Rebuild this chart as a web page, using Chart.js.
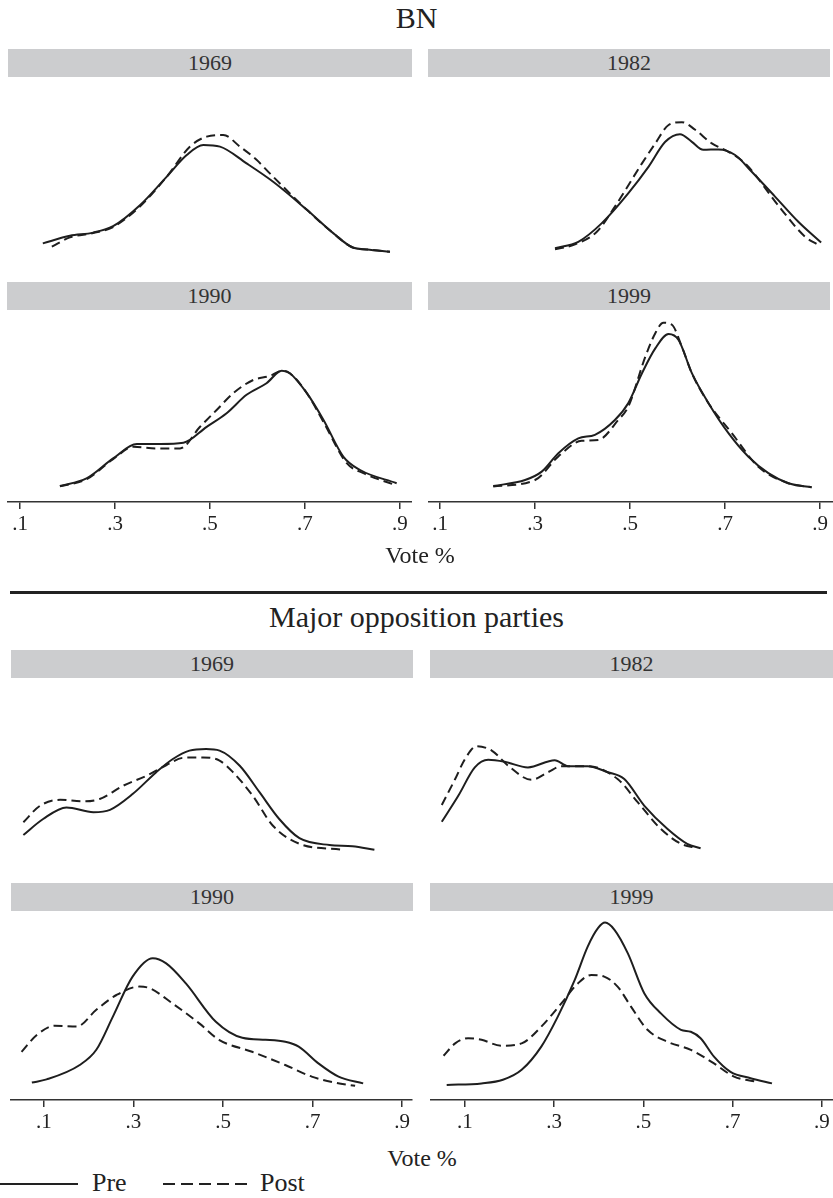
<!DOCTYPE html>
<html>
<head>
<meta charset="utf-8">
<script src="https://cdn.jsdelivr.net/npm/chart.js@4"></script>
<style>
  body { margin: 0; background: #fff; font-family: "Liberation Serif", serif; color: #222; }
  #page { position: relative; width: 833px; height: 1198px; overflow: hidden; }
  .title { position: absolute; left: 0; width: 833px; text-align: center; font-size: 30px; line-height: 34px; }
  .strip { position: absolute; height: 28px; background: #cccdcf; text-align: center; font-size: 22px; line-height: 28px; color: #333; }
  .panel { position: absolute; }
  .xtitle { position: absolute; width: 200px; text-align: center; font-size: 24px; line-height: 28px; }
  .rule { position: absolute; left: 10px; width: 817px; top: 591px; height: 3px; background: #222; }
  .key { position: absolute; top: 1183px; height: 2px; }
  .keytext { position: absolute; top: 1168px; font-size: 26px; line-height: 30px; }
</style>
</head>
<body>
<div id="page">
  <div class="title" style="top:1px">BN</div>
  <div class="strip" style="left:8px;width:404px;top:49px">1969</div>
  <div class="strip" style="left:428px;width:402px;top:49px">1982</div>
  <div class="strip" style="left:7px;width:405px;top:282px">1990</div>
  <div class="strip" style="left:428px;width:402px;top:282px">1999</div>
  <canvas class="panel" id="bn1969" width="405" height="192" style="left:7px;top:77px"></canvas>
  <canvas class="panel" id="bn1982" width="405" height="192" style="left:428px;top:77px"></canvas>
  <canvas class="panel" id="bn1990" width="405" height="232" style="left:7px;top:310px"></canvas>
  <canvas class="panel" id="bn1999" width="405" height="232" style="left:428px;top:310px"></canvas>
  <div class="xtitle" style="left:320px;top:541px">Vote %</div>

  <div class="rule"></div>

  <div class="title" style="top:600px">Major opposition parties</div>
  <div class="strip" style="left:11px;width:402px;top:650px">1969</div>
  <div class="strip" style="left:430px;width:403px;top:650px">1982</div>
  <div class="strip" style="left:11px;width:402px;top:883px">1990</div>
  <div class="strip" style="left:430px;width:403px;top:883px">1999</div>
  <canvas class="panel" id="op1969" width="403" height="189" style="left:10px;top:677px"></canvas>
  <canvas class="panel" id="op1982" width="403" height="189" style="left:430px;top:677px"></canvas>
  <canvas class="panel" id="op1990" width="403" height="229" style="left:10px;top:911px"></canvas>
  <canvas class="panel" id="op1999" width="403" height="229" style="left:430px;top:911px"></canvas>
  <div class="xtitle" style="left:322px;top:1144px">Vote %</div>

  <div class="key" style="left:0;width:78px;background:#222"></div>
  <div class="keytext" style="left:92px">Pre</div>
  <div class="key" style="left:163px;width:84px;background:repeating-linear-gradient(to right,#222 0 12px,transparent 12px 18px)"></div>
  <div class="keytext" style="left:260px">Post</div>
</div>
<script>
// kernel density curves: [vote share, density]
const tickValues = [0.1, 0.3, 0.5, 0.7, 0.9];
const tickLabels = ['.1', '.3', '.5', '.7', '.9'];

const bn1969Pre = [[0.148,0.29],[0.205,0.48],[0.254,0.56],[0.296,0.72],[0.353,1.25],[0.409,1.96],[0.451,2.5],[0.486,2.75],[0.521,2.71],[0.577,2.29],[0.633,1.83],[0.704,1.13],[0.760,0.54],[0.802,0.18],[0.830,0.14],[0.879,0.08]];
const bn1969Post = [[0.167,0.21],[0.205,0.44],[0.254,0.55],[0.296,0.70],[0.353,1.22],[0.409,1.96],[0.458,2.71],[0.493,2.96],[0.528,3.0],[0.563,2.71],[0.598,2.38],[0.626,2.04],[0.704,1.13],[0.760,0.54],[0.802,0.18],[0.830,0.14],[0.879,0.08]];
const bn1982Pre = [[0.342,0.17],[0.391,0.33],[0.440,0.79],[0.496,1.54],[0.539,2.21],[0.574,2.83],[0.605,3.02],[0.630,2.83],[0.654,2.63],[0.686,2.64],[0.721,2.5],[0.756,2.08],[0.805,1.46],[0.854,0.83],[0.902,0.31]];
const bn1982Post = [[0.342,0.14],[0.380,0.25],[0.430,0.58],[0.468,1.21],[0.525,2.29],[0.553,2.79],[0.581,3.25],[0.609,3.32],[0.637,3.13],[0.672,2.79],[0.707,2.58],[0.742,2.29],[0.819,1.13],[0.868,0.46],[0.896,0.25]];
const bn1990Pre = [[0.184,0.05],[0.240,0.24],[0.296,0.74],[0.346,1.1],[0.395,1.1],[0.444,1.13],[0.493,1.53],[0.535,1.87],[0.577,2.33],[0.619,2.62],[0.651,2.93],[0.668,2.87],[0.704,2.37],[0.739,1.7],[0.781,0.78],[0.816,0.45],[0.893,0.12]];
const bn1990Post = [[0.184,0.04],[0.240,0.22],[0.296,0.72],[0.339,1.03],[0.388,0.99],[0.437,0.99],[0.479,1.53],[0.514,1.95],[0.549,2.37],[0.591,2.7],[0.626,2.8],[0.651,2.93],[0.668,2.87],[0.704,2.37],[0.739,1.65],[0.788,0.62],[0.823,0.37],[0.889,0.08]];
const bn1999Pre = [[0.212,0.05],[0.279,0.2],[0.314,0.41],[0.349,0.87],[0.391,1.24],[0.426,1.33],[0.468,1.7],[0.496,2.12],[0.525,2.87],[0.553,3.49],[0.581,3.85],[0.602,3.7],[0.630,2.87],[0.665,2.12],[0.707,1.37],[0.749,0.78],[0.791,0.37],[0.833,0.12],[0.882,0.02]];
const bn1999Post = [[0.212,0.04],[0.300,0.2],[0.349,0.79],[0.398,1.18],[0.433,1.2],[0.475,1.7],[0.496,2.03],[0.532,3.28],[0.553,3.87],[0.570,4.13],[0.588,4.08],[0.609,3.53],[0.630,2.87],[0.665,2.12],[0.714,1.37],[0.770,0.53],[0.833,0.12],[0.882,0.02]];

const op1969Pre = [[0.054,0.45],[0.098,0.85],[0.150,1.14],[0.210,1.02],[0.247,1.08],[0.298,1.48],[0.350,2.02],[0.387,2.35],[0.424,2.56],[0.461,2.6],[0.491,2.56],[0.536,2.18],[0.580,1.52],[0.624,0.85],[0.669,0.37],[0.736,0.2],[0.787,0.17],[0.836,0.08]];
const op1969Post = [[0.054,0.77],[0.091,1.18],[0.136,1.33],[0.187,1.29],[0.224,1.35],[0.276,1.68],[0.328,1.93],[0.373,2.2],[0.410,2.38],[0.454,2.39],[0.491,2.31],[0.521,2.02],[0.565,1.43],[0.610,0.68],[0.669,0.23],[0.765,0.08]];
const op1982Pre = [[0.048,0.78],[0.085,1.43],[0.122,2.14],[0.152,2.33],[0.189,2.28],[0.241,2.14],[0.301,2.32],[0.331,2.17],[0.375,2.17],[0.420,2.02],[0.457,1.85],[0.502,1.18],[0.554,0.6],[0.598,0.23],[0.628,0.12]];
const op1982Post = [[0.048,1.2],[0.078,1.85],[0.100,2.35],[0.126,2.67],[0.160,2.56],[0.197,2.18],[0.249,1.83],[0.286,2.02],[0.316,2.17],[0.375,2.17],[0.442,1.85],[0.487,1.27],[0.539,0.6],[0.584,0.23],[0.621,0.12]];
const op1990Pre = [[0.073,0.11],[0.106,0.19],[0.180,0.55],[0.217,0.93],[0.254,1.76],[0.298,2.76],[0.343,3.22],[0.373,3.09],[0.417,2.59],[0.484,1.63],[0.543,1.23],[0.595,1.18],[0.639,1.13],[0.669,1.01],[0.713,0.59],[0.758,0.26],[0.813,0.09]];
const op1990Post = [[0.050,0.88],[0.084,1.3],[0.124,1.53],[0.173,1.51],[0.217,1.93],[0.262,2.3],[0.313,2.51],[0.336,2.47],[0.387,2.09],[0.447,1.59],[0.491,1.18],[0.565,0.88],[0.639,0.55],[0.698,0.26],[0.750,0.11],[0.795,0.03]];
const op1999Pre = [[0.059,0.05],[0.137,0.09],[0.185,0.18],[0.227,0.43],[0.271,1.01],[0.308,1.76],[0.346,2.68],[0.375,3.51],[0.398,3.97],[0.414,4.11],[0.435,3.93],[0.465,3.34],[0.502,2.34],[0.539,1.84],[0.584,1.43],[0.606,1.38],[0.628,1.22],[0.658,0.76],[0.695,0.38],[0.740,0.22],[0.788,0.09]];
const op1999Post = [[0.052,0.78],[0.078,1.09],[0.107,1.22],[0.137,1.18],[0.182,1.03],[0.227,1.09],[0.271,1.51],[0.316,2.09],[0.353,2.59],[0.383,2.8],[0.412,2.76],[0.442,2.51],[0.472,2.01],[0.509,1.43],[0.554,1.13],[0.606,0.93],[0.658,0.59],[0.703,0.26],[0.755,0.13]];

const INK = '#1e1e1e';

function toPoints(rows) {
    return rows.map(r => ({ x: r[0], y: r[1] }));
}

function makePanel(id, pre, post, xRange, yRange, showAxis) {
    const xScale = {
        type: 'linear',
        min: xRange[0],
        max: xRange[1],
        display: showAxis,
        afterBuildTicks: (scale) => { scale.ticks = tickValues.map(v => ({ value: v })); },
        grid: { display: true, drawOnChartArea: false, drawTicks: true, tickLength: 7, color: '#333', lineWidth: 1.5 },
        border: { display: true, color: '#333', width: 1.5 },
        ticks: {
            autoSkip: false,
            maxRotation: 0,
            padding: 3,
            color: '#222',
            font: { family: 'Liberation Serif', size: 21 },
            callback: (value, index) => tickLabels[index],
        }
    };
    // only the bottom row gets an axis; keep its height fixed so the plot area lines up
    if (showAxis) xScale.afterFit = (scale) => { scale.height = 40; };

    new Chart(document.getElementById(id), {
        type: 'line',
        data: {
            datasets: [
                { label: 'Pre', data: toPoints(pre), borderColor: INK, borderWidth: 2, pointRadius: 0, cubicInterpolationMode: 'monotone', fill: false },
                { label: 'Post', data: toPoints(post), borderColor: INK, borderWidth: 2, borderDash: [9, 5], pointRadius: 0, cubicInterpolationMode: 'monotone', fill: false },
            ]
        },
        options: {
            responsive: false,
            animation: false,
            events: [],
            layout: { padding: 0 },
            plugins: { legend: { display: false }, tooltip: { enabled: false } },
            scales: {
                x: xScale,
                y: { display: false, min: yRange[0], max: yRange[1] }
            }
        }
    });
}

const bnY = [-0.35, 4.45];
const opY = [-0.325, 4.4];

makePanel('bn1969', bn1969Pre, bn1969Post, [0.0726, 0.9253], bnY, false);
makePanel('bn1982', bn1982Pre, bn1982Post, [0.0747, 0.927], bnY, false);
makePanel('bn1990', bn1990Pre, bn1990Post, [0.0726, 0.9253], bnY, true);
makePanel('bn1999', bn1999Pre, bn1999Post, [0.0747, 0.927], bnY, true);

makePanel('op1969', op1969Pre, op1969Post, [0.0242, 0.922], opY, false);
makePanel('op1982', op1982Pre, op1982Post, [0.0216, 0.9247], opY, false);
makePanel('op1990', op1990Pre, op1990Post, [0.0242, 0.922], opY, true);
makePanel('op1999', op1999Pre, op1999Post, [0.0216, 0.9247], opY, true);
</script>
</body>
</html>
